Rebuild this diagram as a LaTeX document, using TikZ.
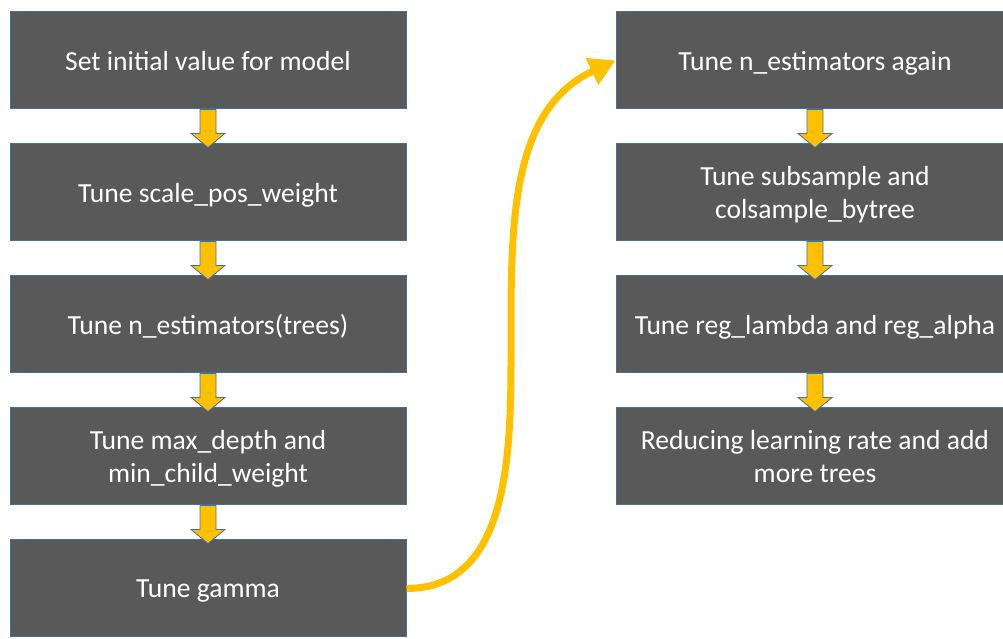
\documentclass[tikz,border=0pt]{standalone}
\usepackage{fontspec}
\setmainfont{Carlito}
\usetikzlibrary{arrows.meta,positioning,calc}
\definecolor{boxgray}{HTML}{595959}
\definecolor{edgeblue}{HTML}{41719C}
\definecolor{gold}{HTML}{FFC000}

% block arrow from the bottom of one box to the top of the next
\newcommand\downarr[2]{%
  \draw[arrowbox] ($(#1.south)+(-8,0)$) -- ++(0,-24) -- ++(-9,0)
    -- ($(#2.north)+(0,-4)$) -- ($(#1.south)+(17,-24)$) -- ++(-9,0)
    -- ($(#1.south)+(8,0)$) -- cycle;}

\begin{document}
\begin{tikzpicture}[x=1pt,y=1pt,
  stepbox/.style={draw=edgeblue, line width=1pt, fill=boxgray, text=white,
    minimum width=396pt, minimum height=97pt, align=center, text depth=0pt,
    font=\fontsize{27.6}{33}\selectfont},
  arrowbox/.style={draw=edgeblue, line width=0.8pt, fill=gold},
  node distance=34pt]
\path[use as bounding box, clip] (0,0) rectangle (1003,639);

\node[stepbox] (s1) at (208,578.5) {Set initial value for model};
\node[stepbox, below=of s1] (s2) {Tune scale\_pos\_weight};
\node[stepbox, below=of s2] (s3) {Tune n\_estimators(trees)};
\node[stepbox, below=of s3] (s4) {Tune max\_depth and\\min\_child\_weight};
\node[stepbox, below=of s4] (s5) {Tune gamma};

\node[stepbox, minimum width=398pt] (r1) at (815,578.5) {Tune n\_estimators again};
\node[stepbox, minimum width=398pt, below=of r1] (r2) {Tune subsample and\\colsample\_bytree};
\node[stepbox, minimum width=398pt, below=of r2] (r3) {Tune reg\_lambda and reg\_alpha};
\node[stepbox, minimum width=398pt, below=of r3] (r4) {Reducing learning rate and add\\more trees};

\foreach \a/\b in {s1/s2,s2/s3,s3/s4,s4/s5,r1/r2,r2/r3,r3/r4}
  \downarr{\a}{\b};

\coordinate (bend) at (511,308);
\draw[gold, line width=7pt, -{Triangle[length=26pt,width=28pt]}]
  (s5.east) to[out=0,in=-90] (bend) to[out=90,in=205] (r1.west);
\end{tikzpicture}
\end{document}
